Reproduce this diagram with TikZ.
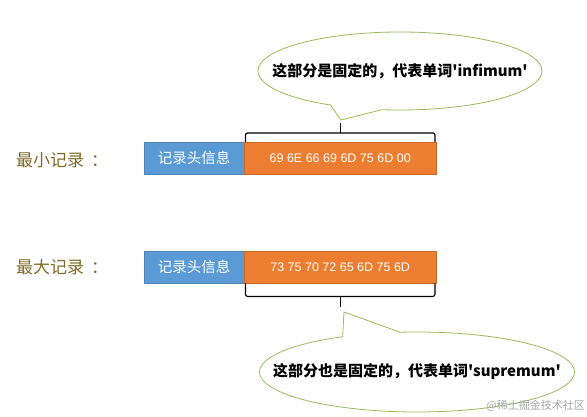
\documentclass[tikz,border=0pt]{standalone}
\usepackage{fontspec}
\setmainfont{Liberation Sans}
\newfontfamily\cjk{Noto Sans CJK SC}
\usetikzlibrary{shapes.callouts,calc}
\definecolor{hblue}{HTML}{5B9BD5}
\definecolor{dorange}{HTML}{ED7D31}
\definecolor{bgreen}{HTML}{9BBB59}
\definecolor{labc}{HTML}{7F6A28}
\begin{document}
\begin{tikzpicture}[x=1pt,y=-1pt,
  lab/.style={font=\cjk\fontsize{17}{20}\selectfont, text=labc, anchor=west, inner sep=0pt},
  hdr/.style={fill=hblue, draw=hblue!85!black, line width=0.4pt, minimum width=100pt, minimum height=32pt, inner sep=0pt, text=white, font=\cjk\fontsize{14.5}{16}\selectfont, anchor=north west},
  dat/.style={fill=dorange, draw=dorange!85!black, line width=0.4pt, minimum width=192pt, minimum height=32pt, inner sep=0pt, text=white, font=\fontsize{12.5}{14}\selectfont, anchor=north west},
  bubble/.style={ellipse callout, draw=bgreen, line width=0.8pt, fill=white, inner sep=0pt, callout pointer arc=22},
  btext/.style={font=\cjk\bfseries\fontsize{15}{17}\selectfont, inner sep=0pt},
  brace/.style={draw=black, line width=1.2pt, rounded corners=2pt}
]
\useasboundingbox (0,0) rectangle (587,417);
% row 1
\node[lab] (l1) at (16,160) {最小记录\kern7pt：};
\node[hdr] (h1) at (144,142) {记录头信息};
\node[dat] (d1) at (244,142) {69 6E 66 69 6D 75 6D 00};
% row 2
\node[lab] (l2) at (16,267) {最大记录\kern7pt：};
\node[hdr] (h2) at (144,251) {记录头信息};
\node[dat] (d2) at (244,251) {73 75 70 72 65 6D 75 6D};
% braces
\coordinate (p1) at (341,120);
\coordinate (p2) at (344,312);
\draw[brace] ($(d1.north west)+(1.5,0)$) -- ++(0,-9) -| ($(d1.north east)+(-1.5,0)$);
\draw[brace] ($(d1.north)+(0,-9)$) -- ($(d1.north)+(0,-19)$);
\draw[brace] ($(d2.south west)+(1.5,0)$) -- ++(0,13) -| ($(d2.south east)+(-1.5,0)$);
\draw[brace] ($(d2.south)+(0,13)$) -- ($(d2.south)+(0,24)$);
% bubbles
\node[bubble, minimum width=284pt, minimum height=78pt, callout absolute pointer=(p1)] (c1) at (400,71) {};
\node[btext] (t1) at (c1.center) {这部分是固定的，代表单词\char"27 infimum\char"27};
\node[bubble, minimum width=315pt, minimum height=80pt, callout absolute pointer=(p2)] (c2) at (417,372) {};
\node[btext] (t2) at (c2.center) {这部分也是固定的，代表单词\char"27 supremum\char"27};
% watermark
\node[font=\cjk\fontsize{11}{13}\selectfont, text=black!35, anchor=east, inner sep=0pt] (wm) at (585,406) {@稀土掘金技术社区};
\end{tikzpicture}
\end{document}
